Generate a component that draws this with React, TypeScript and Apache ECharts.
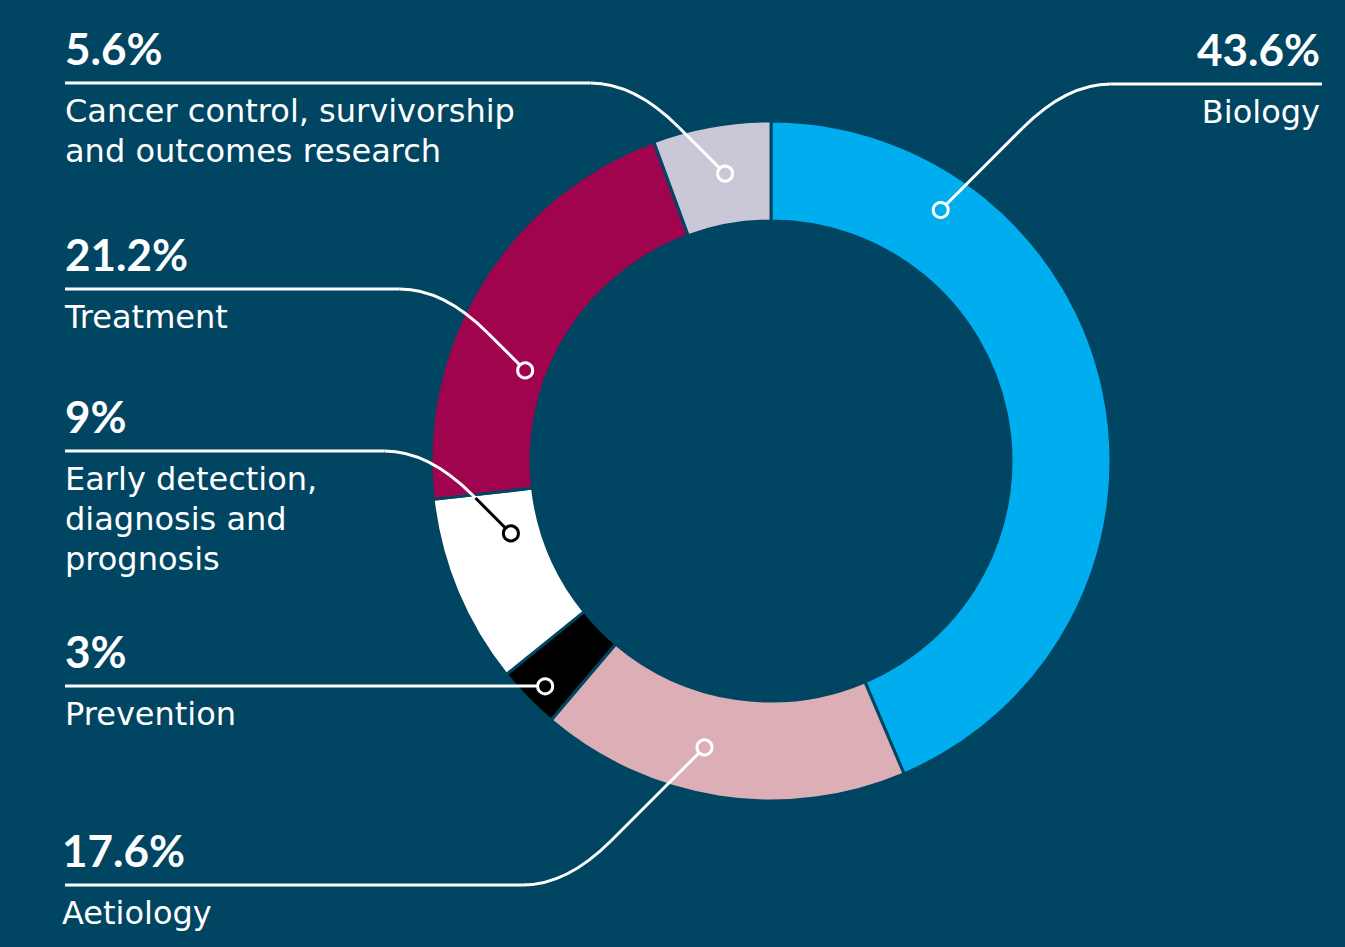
import React, { useEffect, useRef } from "react";
import * as echarts from "echarts";

// ---------- data ----------
const categories = [
  "Biology",
  "Aetiology",
  "Prevention",
  "Early detection, diagnosis and prognosis",
  "Treatment",
  "Cancer control, survivorship and outcomes research",
];
const values = [43.6, 17.6, 3, 9, 21.2, 5.6];
const percentLabels = ["43.6%", "17.6%", "3%", "9%", "21.2%", "5.6%"];
const nameLines = [
  ["Biology"],
  ["Aetiology"],
  ["Prevention"],
  ["Early detection,", "diagnosis and", "prognosis"],
  ["Treatment"],
  ["Cancer control, survivorship", "and outcomes research"],
];

// ---------- styles / layout ----------
const BG = "#004562";
const sliceColors = ["#00aeef", "#dcaeb5", "#000000", "#ffffff", "#a1044e", "#cac8d6"];
const markColors = ["#ffffff", "#ffffff", "#ffffff", "#000000", "#ffffff", "#ffffff"];
const W = 1345;
const H = 947;
const CX = 771;
const CY = 461;
const R0 = 240;
const R1 = 340;
const PCT_FONT = "Lato, 'Open Sans', sans-serif";
const NAME_FONT = "'DejaVu Sans', 'Open Sans', sans-serif";
const PCT_SIZE = 44;
const NAME_SIZE = 32;
const NAME_LH = 40;
const LEFT_X = 65;
const RIGHT_X = 1322;
// side, y of the horizontal rule, dot position inside the slice (fraction of its sweep, radius)
const leaderLayout = [
  { side: "right", lineY: 84, frac: 0.217, r: 303, textX: 1320 },
  { side: "left", lineY: 885, frac: 0.57, r: 294, textX: 62 },
  { side: "left", lineY: 686, frac: 0.44, r: 319, textX: 65 },
  { side: "left", lineY: 451, frac: 0.72, r: 270, textX: 65 },
  { side: "left", lineY: 289, frac: 0.35, r: 262, textX: 65 },
  { side: "left", lineY: 83, frac: 0.55, r: 291, textX: 65 },
];

function polar(thetaDeg: number, r: number) {
  const t = (thetaDeg * Math.PI) / 180;
  return [CX + r * Math.sin(t), CY - r * Math.cos(t)];
}

function buildGraphics() {
  const total = values.reduce((a, b) => a + b, 0);
  const els: any[] = [];
  let cum = 0;
  values.forEach((v, i) => {
    const a0 = (cum / total) * 360;
    const a1 = ((cum + v) / total) * 360;
    cum += v;
    const L = leaderLayout[i];
    const theta = a0 + (a1 - a0) * L.frac;
    const [dx, dy] = polar(theta, L.r);
    const yL = L.lineY;
    const dist = Math.abs(yL - dy);
    const dir = L.side === "left" ? -1 : 1;
    const cornerX = dx + dir * dist;
    const bend = Math.min(44, dist);
    const vy = yL > dy ? 1 : -1;
    const lineStyle = { stroke: "#ffffff", lineWidth: 3, fill: null };
    const edgeX = L.side === "left" ? LEFT_X : RIGHT_X;
    const hEnd = bend > 0.5 ? cornerX + dir * bend : dx;
    // horizontal rule
    els.push({
      type: "line",
      z: 100,
      shape: { x1: edgeX, y1: yL, x2: hEnd, y2: yL },
      style: { stroke: "#ffffff", lineWidth: 3 },
    });
    let diagStart = [hEnd, yL];
    if (bend > 0.5) {
      const px = cornerX - dir * bend;
      const py = yL - vy * bend;
      els.push({
        type: "bezierCurve",
        z: 100,
        shape: { x1: hEnd, y1: yL, cpx1: cornerX, cpy1: yL, x2: px, y2: py },
        style: lineStyle,
      });
      diagStart = [px, py];
      els.push({
        type: "line",
        z: 100,
        shape: { x1: px, y1: py, x2: dx, y2: dy },
        style: lineStyle,
      });
    }
    // part of the leader inside a light slice takes the mark colour
    if (markColors[i] !== "#ffffff") {
      let ex = dx;
      let ey = dy;
      const len = Math.hypot(diagStart[0] - dx, diagStart[1] - dy);
      for (let s = 0; s <= len; s += 0.5) {
        const x = dx + ((diagStart[0] - dx) * s) / len;
        const y = dy + ((diagStart[1] - dy) * s) / len;
        const rr = Math.hypot(x - CX, y - CY);
        let ang = (Math.atan2(x - CX, CY - y) * 180) / Math.PI;
        if (ang < 0) ang += 360;
        if (rr < R0 || rr > R1 || ang < a0 + 0.6 || ang > a1 - 0.6) break;
        ex = x;
        ey = y;
      }
      els.push({
        type: "line",
        z: 101,
        shape: { x1: dx, y1: dy, x2: ex, y2: ey },
        style: { stroke: markColors[i], lineWidth: 3 },
      });
    }
    // dot
    els.push({
      type: "circle",
      z: 102,
      shape: { cx: dx, cy: dy, r: 7.5 },
      style: { fill: sliceColors[i], stroke: markColors[i], lineWidth: 3 },
    });
    // texts
    const align = L.side === "left" ? "left" : "right";
    const tx = L.textX;
    els.push({
      type: "text",
      z: 103,
      x: tx,
      y: yL - 21 - 0.32 * PCT_SIZE,
      style: {
        text: percentLabels[i],
        fill: "#ffffff",
        font: `bold ${PCT_SIZE}px ${PCT_FONT}`,
        align,
        verticalAlign: "middle",
      },
    });
    const firstBaseline = yL + 39;
    els.push({
      type: "text",
      z: 103,
      x: tx,
      y: firstBaseline - 0.346 * NAME_SIZE - NAME_LH / 2,
      style: {
        text: nameLines[i].join("\n"),
        fill: "#ffffff",
        font: `${NAME_SIZE}px ${NAME_FONT}`,
        lineHeight: NAME_LH,
        align,
        verticalAlign: "top",
      },
    });
  });
  return els;
}

export default function App() {
  const ref = useRef<HTMLDivElement>(null);
  useEffect(() => {
    document.body.style.margin = "0";
    document.body.style.background = BG;
    const chart = echarts.init(ref.current!, null, { renderer: "svg" });
    chart.setOption({
      animation: false,
      backgroundColor: BG,
      series: [
        {
          type: "pie",
          silent: true,
          center: [CX, CY],
          radius: [R0, R1],
          startAngle: 90,
          clockwise: true,
          label: { show: false },
          labelLine: { show: false },
          itemStyle: { borderColor: BG, borderWidth: 3 },
          data: categories.map((name, i) => ({
            name,
            value: values[i],
            itemStyle: { color: sliceColors[i] },
          })),
        },
      ],
      graphic: { elements: buildGraphics() },
    });
    return () => chart.dispose();
  }, []);
  return (
    <div
      ref={ref}
      style={{ position: "fixed", left: 0, top: 0, width: W, height: H, background: BG }}
    />
  );
}
